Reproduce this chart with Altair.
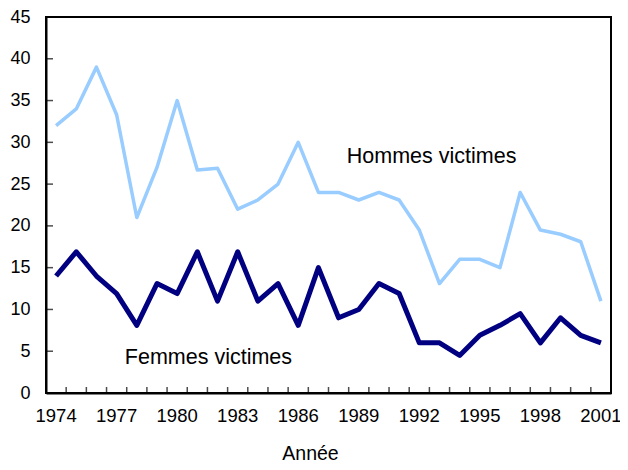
import altair as alt
import pandas as pd

years = list(range(1974, 2002))
hommes = [32, 34, 39, 33.3, 21, 27, 35, 26.7, 26.9, 22, 23.1, 25, 30, 24, 24, 23.1,
          24, 23.1, 19.5, 13.1, 16, 16, 15, 24, 19.5, 19, 18.1, 11]
femmes = [14, 16.9, 14, 11.9, 8.1, 13.1, 11.9, 16.9, 11, 16.9, 11, 13.1, 8.1, 15, 9, 10,
          13.1, 11.9, 6, 6, 4.5, 6.9, 8.1, 9.5, 6, 9, 6.9, 6]
series_names = ["Hommes victimes", "Femmes victimes"]
series_colors = ["#99CCFF", "#000080"]
label_years = [1989, 1978]
label_values = [28.2, 4.2]

rows = []
for y, h, f in zip(years, hommes, femmes):
    rows.append({"Année": y, "valeur": h, "serie": series_names[0]})
    rows.append({"Année": y, "valeur": f, "serie": series_names[1]})
df = pd.DataFrame(rows)
lab = pd.DataFrame({"Année": label_years, "valeur": label_values, "texte": series_names})
ticks_df = pd.DataFrame({"Année": years[1:]})
yticks_df = pd.DataFrame({"valeur": list(range(5, 45, 5))})

W, H = 565, 376
FONT = "Liberation Sans"
x_scale = alt.Scale(domain=years, paddingInner=0, paddingOuter=0)
y_scale = alt.Scale(domain=[0, 45], nice=False)

x_enc = alt.X("Année:O", scale=x_scale,
              axis=alt.Axis(title="Année", labelAngle=0, domain=True, domainColor="black",
                            domainWidth=2, ticks=False,
                            labelPadding=13,
                            labelExpr="(datum.value - 1974) % 3 == 0 ? datum.label : ''",
                            labelFont=FONT, labelFontSize=18.5, labelColor="black",
                            titleFont=FONT, titleFontSize=19.5, titleFontWeight="normal",
                            titleColor="black", titlePadding=20, titleX=264))
y_axis = alt.Axis(title=None, values=list(range(0, 50, 5)), domain=True, domainColor="black",
                  domainWidth=2, grid=False, ticks=False, labelPadding=16,
                  labelFont=FONT, labelFontSize=18, labelColor="black")

lines = alt.Chart(df).mark_line(strokeJoin="round").encode(
    x=x_enc,
    y=alt.Y("valeur:Q", scale=y_scale, axis=y_axis),
    color=alt.Color("serie:N", scale=alt.Scale(domain=series_names, range=series_colors), legend=None),
    strokeWidth=alt.StrokeWidth("serie:N", scale=alt.Scale(domain=series_names, range=[3.5, 5]), legend=None),
)

xticks = alt.Chart(ticks_df).mark_tick(color="black", thickness=1.5, size=6, orient="vertical").encode(
    x=alt.X("Année:O", scale=x_scale, bandPosition=0),
    y=alt.value(H - 3),
)
yticks = alt.Chart(yticks_df).mark_tick(color="black", thickness=1.5, size=7, orient="horizontal").encode(
    y=alt.Y("valeur:Q", scale=y_scale),
    x=alt.value(3.5),
)

texts = alt.Chart(lab).mark_text(align="left", baseline="middle", dx=-12, font=FONT,
                                 fontSize=21.5, color="black").encode(
    x=alt.X("Année:O", scale=x_scale),
    y=alt.Y("valeur:Q", scale=y_scale),
    text="texte:N",
)

chart = alt.layer(lines, xticks, yticks, texts).properties(
    width=W, height=H,
    autosize=alt.AutoSizeParams(type="none"),
    padding={"left": 38, "top": 9, "right": 9, "bottom": 70},
).configure_view(stroke="black", strokeWidth=2)

chart.save("out.html", embed_options={"renderer": "svg", "actions": False})
